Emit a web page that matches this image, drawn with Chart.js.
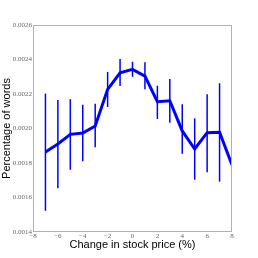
<!DOCTYPE html>
<html>
<head>
<meta charset="utf-8">
<script src="https://cdn.jsdelivr.net/npm/chart.js@4"></script>
<style>
  body { margin: 0; background: #fff; }
  #wrap { width: 258px; height: 258px; }
</style>
</head>
<body>
<div id="wrap"><canvas id="chart" width="258" height="258"></canvas></div>
<script>
// stock price change buckets (%)
const changes = [-7, -6, -5, -4, -3, -2, -1, 0, 1, 2, 3, 4, 5, 6, 7, 8];
// mean share of words, with error bar ends
const means = [0.001864, 0.00191, 0.001966, 0.001974, 0.002014, 0.002227, 0.002323, 0.002343,
               0.002304, 0.002155, 0.002161, 0.001986, 0.001881, 0.001976, 0.001978, 0.001788];
const upper = [0.002202, 0.002165, 0.00217, 0.002138, 0.002144, 0.002328, 0.002403, 0.002387,
               0.002384, 0.002248, 0.002287, 0.002141, 0.002059, 0.002198, 0.002262, 0.002078];
const lower = [0.001523, 0.001653, 0.001761, 0.00181, 0.001891, 0.002125, 0.002246, 0.0023,
               0.002227, 0.002055, 0.002034, 0.001854, 0.001703, 0.001746, 0.001692, 0.001497];

const blue = "#0000ff";
const frameColor = "#b0b0b0";
const tickFont = { family: "Liberation Serif", size: 7 };

// vertical error bars, drawn under the line
const errorBars = {
    id: "errorBars",
    beforeDatasetsDraw(chart) {
        const { ctx, chartArea, scales } = chart;
        ctx.save();
        ctx.beginPath();
        ctx.rect(chartArea.left, chartArea.top, chartArea.right - chartArea.left, chartArea.bottom - chartArea.top);
        ctx.clip();
        ctx.strokeStyle = blue;
        ctx.lineWidth = 1.5;
        changes.forEach((c, i) => {
            const x = scales.x.getPixelForValue(c);
            ctx.beginPath();
            ctx.moveTo(x, scales.y.getPixelForValue(lower[i]));
            ctx.lineTo(x, scales.y.getPixelForValue(upper[i]));
            ctx.stroke();
        });
        ctx.restore();
    }
};

// box round the plot area
const frame = {
    id: "frame",
    afterDraw(chart) {
        const { ctx, chartArea } = chart;
        ctx.save();
        ctx.strokeStyle = frameColor;
        ctx.lineWidth = 1;
        ctx.strokeRect(chartArea.left + 0.5, chartArea.top + 0.5,
                       chartArea.right - chartArea.left - 1, chartArea.bottom - chartArea.top - 1);
        ctx.restore();
    }
};

new Chart(document.getElementById("chart"), {
    type: "line",
    data: {
        datasets: [{
            data: changes.map((c, i) => ({ x: c, y: means[i] })),
            borderColor: blue,
            borderWidth: 3,
            pointRadius: 0,
            fill: false,
            tension: 0
        }]
    },
    options: {
        responsive: false,
        animation: false,
        layout: { padding: { top: 25, right: 26, left: 0, bottom: 0 } },
        plugins: { legend: { display: false }, tooltip: { enabled: false } },
        scales: {
            x: {
                type: "linear",
                min: -8,
                max: 8,
                grid: { display: false, drawTicks: false },
                border: { display: false },
                afterFit: s => { s.height = 26; },
                ticks: {
                    stepSize: 2,
                    autoSkip: false,
                    maxRotation: 0,
                    padding: 0,
                    color: "#666",
                    font: tickFont,
                    callback: v => String(v).replace("-", "\u2212")
                },
                title: {
                    display: true,
                    text: "Change in stock price (%)",
                    color: "#000",
                    font: { family: "Liberation Sans", size: 11 },
                    padding: { top: 0, bottom: 6 }
                }
            },
            y: {
                min: 0.0014,
                max: 0.0026,
                grid: { display: false, drawTicks: false },
                border: { display: false },
                afterFit: s => { s.width = 33; },
                ticks: {
                    stepSize: 0.0002,
                    padding: 1,
                    color: "#666",
                    font: tickFont,
                    callback: v => v.toFixed(4)
                },
                title: {
                    display: true,
                    text: "Percentage of words",
                    color: "#000",
                    font: { family: "Liberation Sans", size: 11 },
                    padding: { top: 0, bottom: 0 }
                }
            }
        }
    },
    plugins: [errorBars, frame]
});
</script>
</body>
</html>
